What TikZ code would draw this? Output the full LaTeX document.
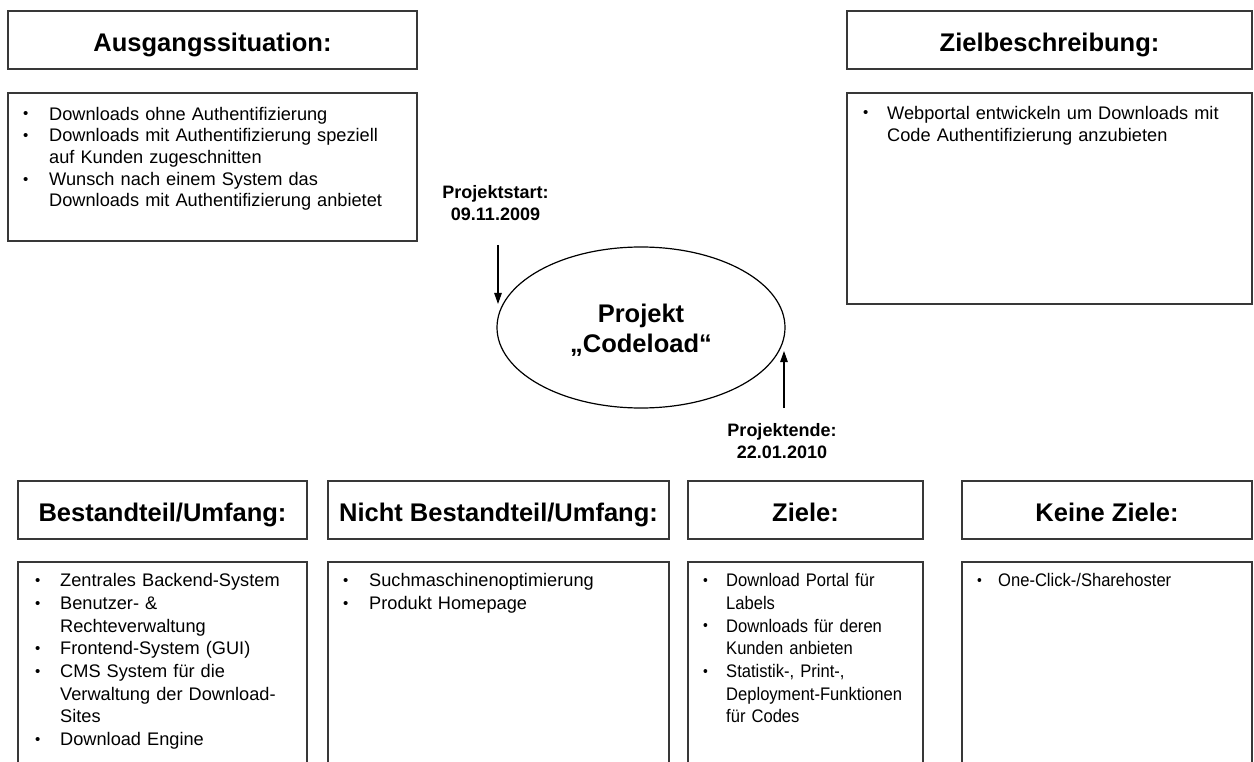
\documentclass[tikz,border=0pt]{standalone}
\usepackage{fontspec}
\setmainfont{Liberation Sans}
\newfontfamily\narrowsans[FakeStretch=0.91]{Liberation Sans}
\usetikzlibrary{arrows.meta,shapes.geometric}

% hanging-indent bullet item for the list boxes
\newlength\bulind
\newcommand\bitem[1]{\hangindent=\bulind\hangafter=1\noindent
  \makebox[\bulind][l]{\raisebox{1.2pt}{\fontsize{15}{15}\selectfont\textbullet}}%
  \rule{0pt}{14pt}#1\par}

\begin{document}
\begin{tikzpicture}[x=1pt,y=-1pt,
  frame/.style={draw=black!78,line width=1.5pt,rectangle,inner sep=0pt},
  head/.style={frame,font=\bfseries\fontsize{25.5}{30}\selectfont,
    text height=22.3pt,text depth=0pt},
  lst/.style={anchor=north west,inner sep=0pt,text width=#1,
    font=\fontsize{18.2}{21.7}\selectfont},
  lstb/.style={lst=#1,font=\fontsize{18.2}{22.7}\selectfont},
  lsts/.style={lst=#1,font=\narrowsans\fontsize{18.2}{22.7}\selectfont},
  dates/.style={font=\bfseries\fontsize{18}{22.7}\selectfont,align=center,inner sep=0pt},
  arr/.style={line width=1.2pt,-{Triangle[length=11pt,width=7.5pt]}}
]
\clip (0,0) rectangle (1254,762);
\fill[white] (0,0) rectangle (1254,762);

% top left: starting situation
\node[head,minimum width=409pt,minimum height=58pt] (hA) at (212.5,40) {Ausgangssituation:};
\node[frame,minimum width=409pt,minimum height=148pt] (bA) at (212.5,167) {};
\node[lst=390pt] (lA) at (23,106) {\setlength\bulind{26pt}\parskip=0pt
  \bitem{Downloads ohne Authentifizierung}
  \bitem{Downloads mit Authentifizierung speziell\newline auf Kunden zugeschnitten}
  \bitem{Wunsch nach einem System das\newline Downloads mit Authentifizierung anbietet}};

% top right: goal description
\node[head,minimum width=405pt,minimum height=58pt] (hZ) at (1049.5,40) {Zielbeschreibung:};
\node[frame,minimum width=405pt,minimum height=211pt] (bZ) at (1049.5,198.5) {};
\node[lst=380pt,font=\fontsize{18.2}{22.3}\selectfont] (lZ) at (863,105) {\setlength\bulind{24pt}\parskip=0pt
  \bitem{Webportal entwickeln um Downloads mit\newline Code Authentifizierung anzubieten}};

% project ellipse with start and end dates
\node[draw,ellipse,line width=1.2pt,minimum width=288pt,minimum height=161pt] (ell) at (641,327.5) {};
\node[align=center,inner sep=0pt,font=\bfseries\fontsize{25.5}{30}\selectfont,yshift=-3pt]
  (elltxt) at (ell.center) {Projekt\\„Codeload“};
\node[dates] (ps) at (495.5,203) {Projektstart:\\09.11.2009};
\node[dates] (pe) at (782,441) {Projektende:\\22.01.2010};
\coordinate (ps1) at (498,245);
\coordinate (ps2) at (498,304);
\coordinate (pe1) at (784,408);
\coordinate (pe2) at (784,351);
\draw[arr] (ps1) -- (ps2);
\draw[arr] (pe1) -- (pe2);

% bottom row: scope, out of scope, goals, non-goals
\node[head,minimum width=289pt,minimum height=58pt] (h1) at (162.5,510) {Bestandteil/Umfang:};
\node[frame,minimum width=289pt,minimum height=238pt] (b1) at (162.5,681) {};
\node[lstb=285pt] (l1) at (35,572.5) {\setlength\bulind{25pt}\parskip=0pt
  \bitem{Zentrales Backend-System}
  \bitem{Benutzer- \&\newline Rechteverwaltung}
  \bitem{Frontend-System (GUI)}
  \bitem{CMS System für die\newline Verwaltung der Download-\newline Sites}
  \bitem{Download Engine}};

\node[head,minimum width=341pt,minimum height=58pt] (h2) at (498.5,510) {Nicht Bestandteil/Umfang:};
\node[frame,minimum width=341pt,minimum height=238pt] (b2) at (498.5,681) {};
\node[lstb=320pt] (l2) at (343,572.5) {\setlength\bulind{26pt}\parskip=0pt
  \bitem{Suchmaschinenoptimierung}
  \bitem{Produkt Homepage}};

\node[head,minimum width=235pt,minimum height=58pt] (h3) at (805.5,510) {Ziele:};
\node[frame,minimum width=235pt,minimum height=238pt] (b3) at (805.5,681) {};
\node[lsts=230pt] (l3) at (703,572.5) {\setlength\bulind{23pt}\parskip=0pt
  \bitem{Download Portal für\newline Labels}
  \bitem{Downloads für deren\newline Kunden anbieten}
  \bitem{Statistik-, Print-,\newline Deployment-Funktionen\newline für Codes}};

\node[head,minimum width=290pt,minimum height=58pt] (h4) at (1107,510) {Keine Ziele:};
\node[frame,minimum width=290pt,minimum height=238pt] (b4) at (1107,681) {};
\node[lsts=270pt] (l4) at (977,572.5) {\setlength\bulind{21pt}\parskip=0pt
  \bitem{One-Click-/Sharehoster}};
\end{tikzpicture}
\end{document}
